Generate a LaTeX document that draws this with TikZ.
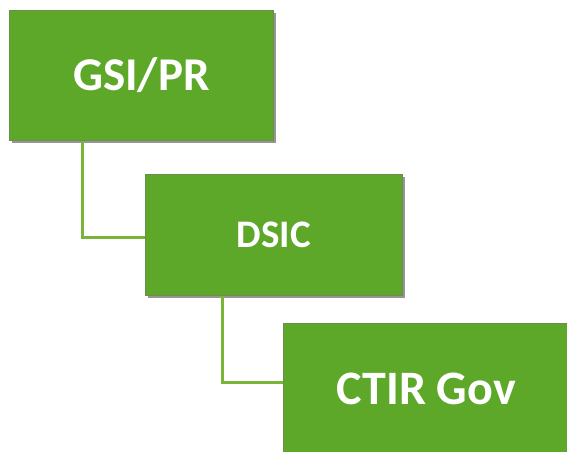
\documentclass[tikz,border=0pt]{standalone}
\usepackage{fontspec}
\setmainfont{Carlito}
\usetikzlibrary{shadows}
\definecolor{boxgreen}{RGB}{93,168,41}
\definecolor{boxedge}{RGB}{110,140,80}
\definecolor{linegreen}{RGB}{122,180,58}
\tikzset{
  orgbox/.style={draw=boxedge, line width=0.8pt, fill=boxgreen, text=white,
    font=\bfseries, anchor=north west, inner sep=0pt,
    drop shadow={shadow xshift=3pt, shadow yshift=-3pt, opacity=0.55, fill=black!75}},
  link/.style={draw=linegreen, line width=3pt}
}
\begin{document}
\begin{tikzpicture}[x=1pt,y=-1pt]
\useasboundingbox (0,0) rectangle (567,451);
\clip (0,0) rectangle (567,451);
\node[orgbox, minimum width=264pt, minimum height=130pt, font=\fontsize{47}{50}\selectfont\bfseries] (gsi) at (9,10) {GSI/PR};
\node[orgbox, minimum width=257pt, minimum height=121pt, font=\fontsize{39}{42}\selectfont\bfseries] (dsic) at (145,174) {DSIC};
\node[orgbox, minimum width=286pt, minimum height=131pt, font=\fontsize{48}{52}\selectfont\bfseries] (ctir) at (283,323) {CTIR Gov};
\coordinate (c1) at (82,237);
\coordinate (c2) at (222,382);
\path[link] (gsi.south -| c1) -- (c1) -- (dsic.west |- c1);
\path[link] (dsic.south -| c2) -- (c2) -- (ctir.west |- c2);
\end{tikzpicture}
\end{document}
